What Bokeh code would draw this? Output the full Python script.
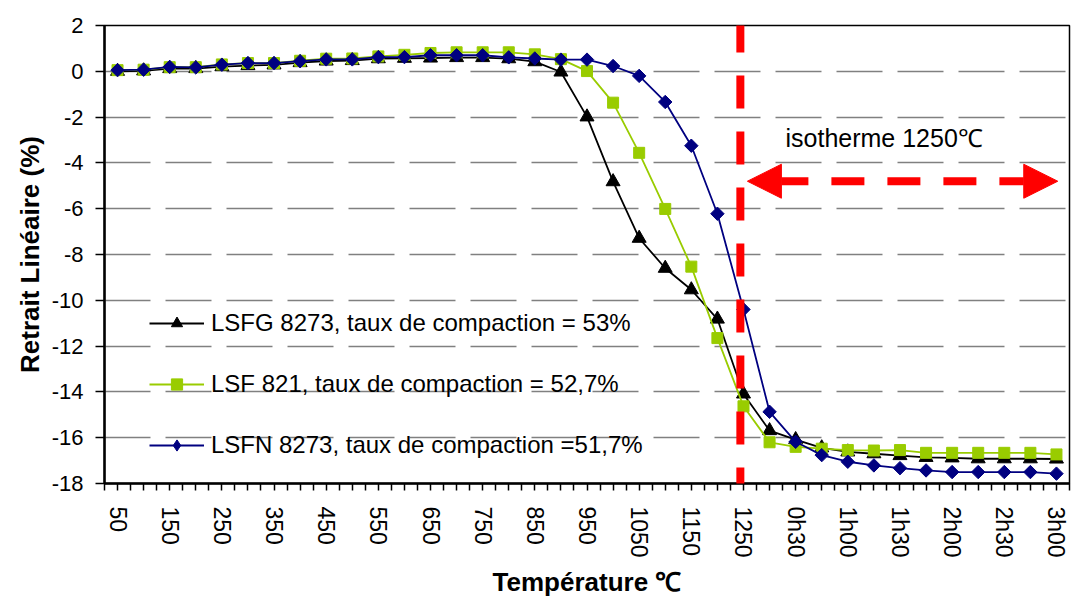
import math
from bokeh.plotting import figure
from bokeh.models import (FixedTicker, Legend, LegendItem, Arrow, NormalHead,
                          Label, Range1d)
from bokeh.embed import file_html
from bokeh.resources import INLINE

# ---------------- data ----------------
categories = ["50", "100", "150", "200", "250", "300", "350", "400", "450", "500",
              "550", "600", "650", "700", "750", "800", "850", "900", "950", "1000",
              "1050", "1100", "1150", "1200", "1250",
              "0h15", "0h30", "0h45", "1h00", "1h15", "1h30", "1h45", "2h00",
              "2h15", "2h30", "2h45", "3h00"]

lsfg_8273 = [0.00, 0.02, 0.12, 0.12, 0.20, 0.25, 0.28, 0.38, 0.45, 0.47,
             0.55, 0.57, 0.58, 0.60, 0.60, 0.55, 0.42, -0.03, -1.99, -4.82,
             -7.29, -8.60, -9.54, -10.82, -14.09,
             -15.69, -16.08, -16.44, -16.62, -16.70, -16.78, -16.86, -16.88,
             -16.92, -16.92, -16.92, -16.93]

lsf_821 = [0.05, 0.07, 0.18, 0.18, 0.30, 0.36, 0.36, 0.46, 0.55, 0.56,
           0.65, 0.72, 0.80, 0.83, 0.83, 0.83, 0.74, 0.53, 0.01, -1.37,
           -3.56, -6.01, -8.53, -11.65, -14.63,
           -16.20, -16.40, -16.48, -16.54, -16.56, -16.54, -16.66, -16.66,
           -16.66, -16.66, -16.66, -16.73]

lsfn_8273 = [0.05, 0.07, 0.19, 0.17, 0.29, 0.36, 0.36, 0.44, 0.52, 0.52,
             0.62, 0.62, 0.70, 0.70, 0.70, 0.61, 0.56, 0.51, 0.51, 0.23,
             -0.20, -1.34, -3.25, -6.22, -10.40,
             -14.87, -16.18, -16.76, -17.05, -17.21, -17.33, -17.43, -17.50,
             -17.50, -17.50, -17.50, -17.57]

series_labels = ["LSFG 8273, taux de compaction = 53%",
                 "LSF 821, taux de compaction = 52,7%",
                 "LSFN 8273, taux de compaction =51,7%"]

y_ticks = [-18, -16, -14, -12, -10, -8, -6, -4, -2, 0, 2]
y_tick_labels = ["-18", "-16", "-14", "-12", "-10", "-8", "-6", "-4", "-2", "0", "2"]
isotherm_label = "isotherme 1250\u2103"
isotherm_category = "1250"

# ---------------- figure ----------------
FONT = "Liberation Sans"
n = len(categories)
xs = list(range(n))

p = figure(width=1071, height=599, output_backend="svg", toolbar_location=None,
           x_range=Range1d(-0.5, n - 0.5), y_range=Range1d(y_ticks[0], y_ticks[-1]),
           min_border_left=104, min_border_right=2, min_border_top=25,
           min_border_bottom=115)

p.background_fill_color = "white"
p.border_fill_color = "white"
p.outline_line_color = "black"
p.outline_line_width = 1.5

# grid
p.xgrid.visible = False
p.ygrid.ticker = FixedTicker(ticks=y_ticks)
p.ygrid.grid_line_color = "#808080"
p.ygrid.grid_line_width = 1.5
p.ygrid.grid_line_dash = "46 15"

# x axis: labels every other category, ticks at centres and boundaries
major = [i for i in xs if i % 2 == 0]
minor = [k * 0.5 for k in range(-1, 2 * n) if not (k % 2 == 0 and (k // 2) % 2 == 0)]
p.xaxis.ticker = FixedTicker(ticks=major, minor_ticks=minor)
p.xaxis.major_label_overrides = {i: categories[i] for i in major}
p.xaxis.major_label_orientation = -math.pi / 2
p.xaxis.major_label_standoff = 16
p.xaxis.major_label_text_font = FONT
p.xaxis.major_label_text_font_size = "23px"
p.xaxis.major_label_text_color = "black"
p.xaxis.major_tick_in = 0
p.xaxis.major_tick_out = 7
p.xaxis.minor_tick_in = 0
p.xaxis.minor_tick_out = 7
p.xaxis.major_tick_line_width = 1.5
p.xaxis.minor_tick_line_width = 1.5
p.xaxis.major_tick_line_color = "black"
p.xaxis.minor_tick_line_color = "black"
p.xaxis.axis_line_width = 2.5
p.xaxis.axis_line_color = "black"
p.xaxis.axis_label = "Température \u2103"
p.xaxis.axis_label_text_font = FONT
p.xaxis.axis_label_text_font_style = "bold"
p.xaxis.axis_label_text_font_size = "26px"
p.xaxis.axis_label_text_color = "black"
p.xaxis.axis_label_standoff = 6

# y axis
p.yaxis.ticker = FixedTicker(ticks=y_ticks, minor_ticks=[])
p.yaxis.major_label_overrides = dict(zip(y_ticks, y_tick_labels))
p.yaxis.major_label_standoff = 12
p.yaxis.major_label_text_font = FONT
p.yaxis.major_label_text_font_size = "22px"
p.yaxis.major_label_text_color = "black"
p.yaxis.major_tick_in = 0
p.yaxis.major_tick_out = 9
p.yaxis.major_tick_line_width = 1.5
p.yaxis.major_tick_line_color = "black"
p.yaxis.axis_line_width = 2.5
p.yaxis.axis_line_color = "black"
p.yaxis.axis_label = "Retrait Linéaire (%)"
p.yaxis.axis_label_text_font = FONT
p.yaxis.axis_label_text_font_style = "bold"
p.yaxis.axis_label_text_font_size = "26px"
p.yaxis.axis_label_text_color = "black"
p.yaxis.axis_label_standoff = 4

# ---------------- series ----------------
l1 = p.line(xs, lsfg_8273, line_color="black", line_width=1.8)
s1 = p.scatter(xs, lsfg_8273, marker="triangle", size=14, fill_color="black",
               line_color="black")
l2 = p.line(xs, lsf_821, line_color="#99CC00", line_width=1.8)
s2 = p.scatter(xs, lsf_821, marker="square", size=11, fill_color="#99CC00",
               line_color="#99CC00")
l3 = p.line(xs, lsfn_8273, line_color="#000080", line_width=1.8)
s3 = p.scatter(xs, lsfn_8273, marker="square", angle=math.pi / 4, size=9.5,
               fill_color="#000080", line_color="#000080")
# legend-only diamond swatch (legend swatches ignore marker angle)
s3_legend = p.scatter(xs, lsfn_8273, marker="diamond", size=14,
                      fill_color="#000080", line_color="#000080", visible=False)

items = [LegendItem(label=series_labels[0], renderers=[l1, s1]),
         LegendItem(label=series_labels[1], renderers=[l2, s2]),
         LegendItem(label=series_labels[2], renderers=[l3, s3_legend])]

legend = Legend(items=items, location=(45, 24), orientation="vertical",
                glyph_width=55, glyph_height=28, label_height=28,
                label_standoff=7, spacing=33, padding=0, margin=0,
                border_line_alpha=0, background_fill_alpha=0,
                inactive_fill_alpha=0,
                label_text_font=FONT, label_text_font_size="24px",
                label_text_color="black")
p.add_layout(legend)

# ---------------- isotherm annotations ----------------
iso_x = categories.index(isotherm_category)
vline = Arrow(x_start=iso_x - 0.12, y_start=2.26, x_end=iso_x - 0.12, y_end=-18.57,
              end=None, start=None, line_color="#FF0000", line_width=8,
              line_dash="33 23")
p.add_layout(vline)

head_l = NormalHead(size=34, fill_color="#FF0000", line_color="#FF0000", line_width=1)
head_r = NormalHead(size=34, fill_color="#FF0000", line_color="#FF0000", line_width=1)
harrow = Arrow(x_start=iso_x + 0.15, y_start=-4.8, x_end=n - 1 + 0.05, y_end=-4.8,
               start=head_l, end=head_r, line_color="#FF0000", line_width=8,
               line_dash="33 23", line_dash_offset=28)
p.add_layout(harrow)

p.add_layout(Label(x=iso_x + 1.61, y=-2.92, text=isotherm_label,
                   text_font=FONT, text_font_size="25px", text_color="black",
                   text_baseline="alphabetic"))

open("out.html", "w").write(file_html(p, INLINE))
